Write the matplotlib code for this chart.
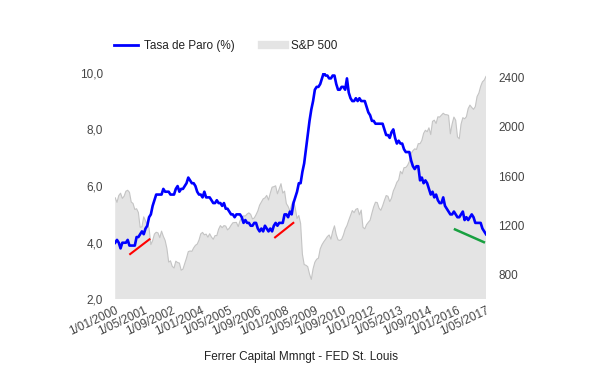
import numpy as np
import pandas as pd
from matplotlib import pyplot as plt
from matplotlib.lines import Line2D

plt.rcParams['font.family'] = ['Liberation Sans', 'DejaVu Sans']

# Tasa de paro mensual (%), ene 2000 - may 2017
paro = [
    4.0, 4.1, 4.0, 3.8, 4.0, 4.0, 4.0, 4.1, 3.9, 3.9, 3.9, 3.9,
    4.2, 4.2, 4.3, 4.4, 4.3, 4.5, 4.6, 4.9, 5.0, 5.3, 5.5, 5.7,
    5.7, 5.7, 5.7, 5.9, 5.8, 5.8, 5.8, 5.7, 5.7, 5.7, 5.9, 6.0,
    5.8, 5.9, 5.9, 6.0, 6.1, 6.3, 6.2, 6.1, 6.1, 6.0, 5.8, 5.7,
    5.7, 5.6, 5.8, 5.6, 5.6, 5.6, 5.5, 5.4, 5.4, 5.5, 5.4, 5.4,
    5.3, 5.4, 5.2, 5.2, 5.1, 5.0, 5.0, 4.9, 5.0, 5.0, 5.0, 4.9,
    4.7, 4.8, 4.7, 4.7, 4.6, 4.6, 4.7, 4.7, 4.5, 4.4, 4.5, 4.4,
    4.6, 4.5, 4.4, 4.5, 4.4, 4.6, 4.7, 4.6, 4.7, 4.7, 4.7, 5.0,
    5.0, 4.9, 5.1, 5.0, 5.4, 5.6, 5.8, 6.1, 6.1, 6.5, 6.8, 7.3,
    7.8, 8.3, 8.7, 9.0, 9.4, 9.5, 9.5, 9.6, 9.8, 10.0, 9.9, 9.9,
    9.8, 9.8, 9.9, 9.9, 9.6, 9.4, 9.4, 9.5, 9.5, 9.4, 9.8, 9.3,
    9.1, 9.0, 9.0, 9.1, 9.0, 9.1, 9.0, 9.0, 9.0, 8.8, 8.6, 8.5,
    8.3, 8.3, 8.2, 8.2, 8.2, 8.2, 8.2, 8.0, 7.8, 7.8, 7.7, 7.9,
    8.0, 7.7, 7.5, 7.6, 7.5, 7.5, 7.3, 7.2, 7.2, 7.2, 6.9, 6.7,
    6.6, 6.7, 6.7, 6.2, 6.3, 6.1, 6.2, 6.1, 5.9, 5.7, 5.8, 5.6,
    5.7, 5.5, 5.4, 5.4, 5.6, 5.3, 5.2, 5.1, 5.0, 5.0, 5.1, 5.0,
    4.9, 4.9, 5.0, 5.1, 4.8, 4.9, 4.8, 4.9, 5.0, 4.9, 4.7, 4.7,
    4.7, 4.7, 4.5, 4.4, 4.3,
]

# S&P 500 media mensual
sp500 = [
    1425, 1388, 1443, 1462, 1420, 1438, 1478, 1486, 1469, 1390, 1379, 1330,
    1336, 1305, 1185, 1189, 1270, 1238, 1205, 1179, 1045, 1077, 1130, 1145,
    1140, 1101, 1154, 1112, 1079, 1014, 903, 913, 868, 855, 910, 899,
    895, 837, 846, 890, 936, 988, 993, 990, 1018, 1039, 1049, 1081,
    1132, 1144, 1124, 1130, 1105, 1133, 1106, 1088, 1118, 1118, 1169, 1199,
    1182, 1199, 1195, 1164, 1178, 1202, 1222, 1224, 1225, 1191, 1237, 1262,
    1278, 1277, 1293, 1302, 1290, 1253, 1261, 1287, 1318, 1365, 1390, 1416,
    1424, 1444, 1407, 1463, 1511, 1515, 1522, 1457, 1497, 1539, 1463, 1479,
    1378, 1354, 1317, 1370, 1403, 1341, 1257, 1281, 1217, 968, 883, 877,
    866, 806, 762, 848, 902, 926, 935, 1010, 1044, 1068, 1088, 1110,
    1123, 1089, 1152, 1197, 1125, 1083, 1079, 1087, 1122, 1171, 1199, 1242,
    1282, 1321, 1304, 1331, 1338, 1287, 1325, 1185, 1173, 1207, 1226, 1243,
    1300, 1352, 1389, 1386, 1341, 1323, 1359, 1403, 1443, 1437, 1394, 1422,
    1480, 1512, 1551, 1570, 1640, 1619, 1669, 1671, 1688, 1720, 1783, 1807,
    1822, 1817, 1864, 1864, 1890, 1948, 1973, 1961, 1993, 1938, 2045, 2055,
    2028, 2082, 2080, 2095, 2111, 2100, 2099, 2094, 1944, 2024, 2080, 2054,
    1919, 1904, 2022, 2075, 2066, 2083, 2149, 2177, 2158, 2143, 2165, 2247,
    2275, 2329, 2366, 2380, 2410,
]

fechas = pd.date_range('2000-01-01', periods=len(paro), freq='MS')
etiquetas = [f"{d.day}/{d.month:02d}/{d.year}" for d in fechas]

# lineas de tendencia (indice de mes, tasa)
tend_roja1 = ([8.4, 19.2], [3.60, 4.12])
tend_roja2 = ([89.7, 99.9], [4.19, 4.70])
tend_verde = ([190.6, 206.8], [4.47, 4.02])

fig = plt.figure(figsize=(6, 3.71), dpi=100)
ax = fig.add_axes([0.192, 0.193, 0.618, 0.611])
ax2 = ax.twinx()
ax.set_zorder(ax2.get_zorder() + 1)
ax.patch.set_visible(False)

x = np.arange(len(paro))

ax2.fill_between(x, 600, sp500, color='#e4e4e4', edgecolor='none')
ax2.plot(x, sp500, color='#c4c4c4', lw=0.8)
ax2.set_ylim(600, 2440)
ax2.set_yticks([800, 1200, 1600, 2000, 2400])

ax.plot(x, paro, color='#0000ff', lw=1.9)
ax.plot(*tend_roja1, color='#ff0000', lw=1.5)
ax.plot(*tend_roja2, color='#ff0000', lw=1.5)
ax.plot(*tend_verde, color='#18a040', lw=1.8)
ax.set_ylim(2, 10)
ax.set_yticks([2, 4, 6, 8, 10])
ax.set_yticklabels([f"{v:.1f}".replace('.', ',') for v in [2, 4, 6, 8, 10]])
ax.set_xlim(0, len(paro) - 1)

idx = list(range(0, len(paro), 16))
ax.set_xticks(idx)
ax.set_xticklabels([etiquetas[i] for i in idx], rotation=25, ha='right',
                   rotation_mode='anchor')

for a in (ax, ax2):
    for s in a.spines.values():
        s.set_visible(False)
    a.tick_params(length=0, labelsize=8.5, colors='#444444')
ax.tick_params(axis='x', pad=4)
ax2.tick_params(axis='y', pad=9)
ax.tick_params(axis='y', pad=9)

ax.set_xlabel('Ferrer Capital Mmngt - FED St. Louis', fontsize=8.5,
              color='#222222', labelpad=9)

handles = [Line2D([], [], color='#0000ff', lw=2),
           Line2D([], [], color='#e4e4e4', lw=6)]
fig.legend(handles, ['Tasa de Paro (%)', 'S&P 500'], loc='center left',
           bbox_to_anchor=(0.173, 0.877), ncol=2, frameon=False, fontsize=8.5,
           handlelength=2.0, handletextpad=0.5, columnspacing=2.3,
           labelcolor='#222222')

fig.savefig('out.png', dpi=100)
